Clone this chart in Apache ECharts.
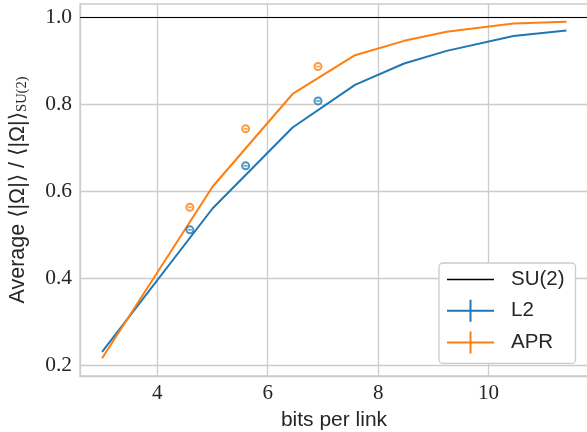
<!DOCTYPE html>
<html><head><meta charset="utf-8">
<script src="https://cdn.jsdelivr.net/npm/echarts@6/dist/echarts.min.js"></script>
<style>html,body{margin:0;padding:0;background:#fff}#c{width:587px;height:432px}</style>
</head><body><div id="c"></div>
<script>
// ---- data ----
const bitsLine = [3.0, 5.0, 6.45, 7.58, 8.47, 9.24, 10.45, 11.41];
const l2Line   = [0.232, 0.561, 0.747, 0.845, 0.894, 0.923, 0.957, 0.970];
const aprLine  = [0.217, 0.611, 0.824, 0.913, 0.946, 0.967, 0.986, 0.990];
const bitsPts  = [4.59, 5.60, 6.91];
const l2Pts    = [0.512, 0.659, 0.808];
const aprPts   = [0.564, 0.744, 0.887];
const su2Level = 1.0;
const xTicks = [4, 6, 8, 10];
const yTicks = [0.2, 0.4, 0.6, 0.8, 1.0];
const names = ['SU(2)', 'L2', 'APR'];

const BLUE = '#1f77b4', ORANGE = '#ff7f0e', GRID = '#cccccc', TXT = '#262626';
const pair = (xs, ys) => xs.map((x, i) => [x, ys[i]]);

const chart = echarts.init(document.getElementById('c'), null, {renderer: 'canvas'});
function markerSeries(ys, color) {
  return [{
    type: 'scatter', data: pair(bitsPts, ys), symbol: 'emptyCircle', symbolSize: 7,
    itemStyle: {color: color, borderColor: color, borderWidth: 1.6}, z: 5, silent: true
  }, {
    type: 'scatter', data: pair(bitsPts, ys), symbol: 'rect', symbolSize: [4, 1.4],
    itemStyle: {color: color}, z: 6, silent: true
  }];
}
chart.setOption({
  animation: false,
  backgroundColor: '#fff',
  grid: {left: 80, top: 4, right: -1, bottom: 56, show: true, borderColor: GRID, borderWidth: 1.3,
         backgroundColor: 'transparent', containLabel: false, outerBoundsMode: 'none'},
  xAxis: {
    type: 'value', min: 2.6, max: 11.8,
    name: 'bits per link', nameLocation: 'middle', nameGap: 34,
    nameTextStyle: {fontFamily: 'Liberation Sans', fontSize: 21, color: TXT},
    axisLine: {show: true, lineStyle: {color: GRID, width: 1.3}},
    axisTick: {show: false, customValues: xTicks},
    axisLabel: {customValues: xTicks, fontFamily: 'Liberation Serif', fontSize: 21, color: TXT, margin: 7},
    splitLine: {show: true, lineStyle: {color: GRID, width: 1.3}}
  },
  yAxis: {
    type: 'value', min: 0.1764, max: 1.0306,
    name: '{s|Average ⟨|Ω|⟩ / ⟨|Ω|⟩}{sub|SU(2)}', nameLocation: 'middle', nameGap: 50, nameRotate: 90,
    nameTextStyle: {
      color: TXT,
      rich: {
        s: {fontFamily: 'Liberation Sans, DejaVu Sans', fontSize: 21.5, color: TXT, lineHeight: 24},
        sub: {fontFamily: 'Liberation Serif', fontSize: 14.5, color: TXT, verticalAlign: 'bottom', lineHeight: 15, padding: [6, 0, 0, 0]}
      }
    },
    axisLine: {show: true, lineStyle: {color: GRID, width: 1.3}},
    axisTick: {show: false, customValues: yTicks},
    axisLabel: {customValues: yTicks, fontFamily: 'Liberation Serif', fontSize: 21.5, color: TXT, margin: 8,
      formatter: v => v.toFixed(1)},
    splitLine: {show: true, lineStyle: {color: GRID, width: 1.3}}
  },
  legend: {
    orient: 'vertical', left: 439, top: 263, padding: [6, 11, 10, 8],
    itemWidth: 47, itemHeight: 22, itemGap: 9.7,
    backgroundColor: '#fff', borderColor: GRID, borderWidth: 1.3, borderRadius: 4,
    textStyle: {fontFamily: 'Liberation Sans', fontSize: 20.5, color: TXT, padding: [0, 0, 0, 12]},
    data: [
      {name: names[0], icon: 'path://M0,0h47v1.3h-47z'},
      {name: names[1], icon: 'path://M0,10h47v2h-47zM22.5,0h2v22h-2z'},
      {name: names[2], icon: 'path://M0,10h47v2h-47zM22.5,0h2v22h-2z'}
    ]
  },
  series: [
    {name: names[0], type: 'line', data: [], color: '#000', symbol: 'none',
     markLine: {silent: true, symbol: 'none', label: {show: false}, lineStyle: {color: '#000', width: 1.1, type: 'solid'},
       data: [{yAxis: su2Level}]}, z: 3},
    {name: names[1], type: 'line', data: pair(bitsLine, l2Line), color: BLUE, symbol: 'none', lineStyle: {width: 2}, z: 4},
    {name: names[2], type: 'line', data: pair(bitsLine, aprLine), color: ORANGE, symbol: 'none', lineStyle: {width: 2}, z: 4},
    ...markerSeries(l2Pts, BLUE),
    ...markerSeries(aprPts, ORANGE)
  ]
});
</script></body></html>
